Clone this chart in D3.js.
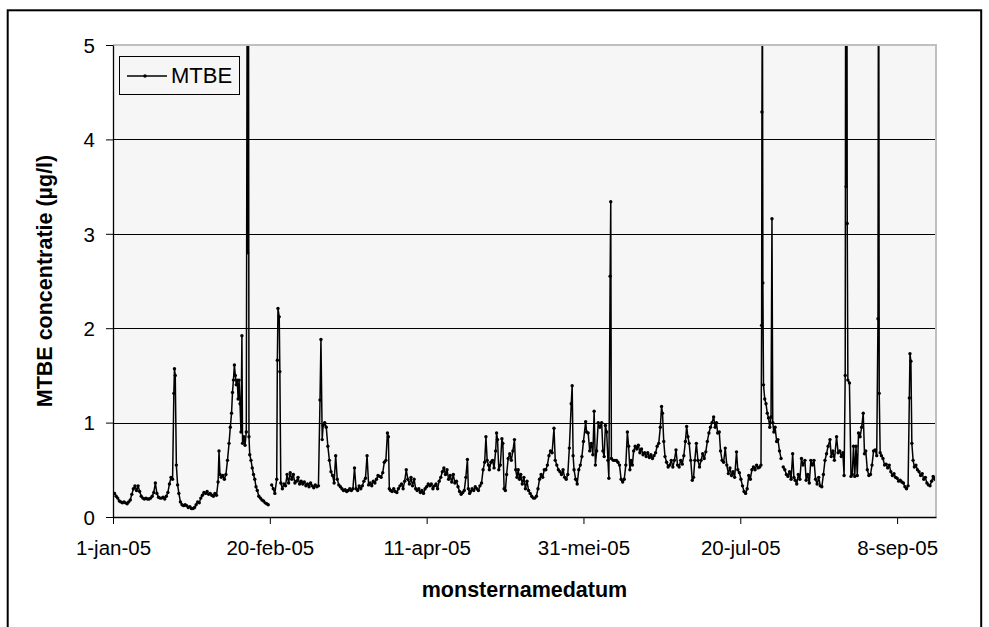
<!DOCTYPE html>
<html>
<head>
<meta charset="utf-8">
<script src="https://cdn.jsdelivr.net/npm/d3@7"></script>
<style>
  html, body { margin: 0; padding: 0; background: #ffffff; }
  svg { display: block; font-family: Arial, "Liberation Sans", sans-serif; }
</style>
</head>
<body>
<svg id="chart" width="989" height="627"></svg>
<script>
// ---------- DATA ----------
const seriesName = "MTBE";
const xTitle = "monsternamedatum";
const yTitle = "MTBE concentratie (µg/l)";
// x tick positions (days since 1-jan-05) and labels
const tickDays = [0, 50, 100, 150, 200, 250];
const tickLabels = ["1-jan-05", "20-feb-05", "11-apr-05", "31-mei-05", "20-jul-05", "8-sep-05"];
const yTicks = [0, 1, 2, 3, 4, 5];
const yGrid = [1, 2, 3, 4];
const xDomain = [0, 262.4];
const yDomain = [0, 5];
// samples: [day since 1-jan-05, MTBE µg/l]; null = missing data
const mtbeSamples = [
  [0,0.24],[0.5,0.25],[1,0.22],[1.5,0.2],[2,0.17],[2.5,0.16],[3,0.15],[3.5,0.16],[4,0.15],[4.5,0.14],
  [5,0.16],[5.5,0.18],[6,0.24],[6.5,0.3],[7,0.33],[7.5,0.28],[8,0.33],[8.5,0.27],[9,0.22],[9.5,0.2],
  [10,0.19],[10.5,0.2],[11,0.19],[11.5,0.19],[12,0.2],[12.5,0.22],[13,0.26],[13.5,0.36],[14,0.25],[14.5,0.21],
  [15,0.2],[15.5,0.2],[16,0.21],[16.5,0.19],[17,0.22],[17.5,0.26],[18,0.35],[18.5,0.42],[19,0.4],[19.4,1.31],
  [19.6,1.57],[19.85,1.5],[20.2,0.55],[20.6,0.34],[21,0.25],[21.5,0.16],[22,0.13],[22.5,0.12],[23,0.13],[23.5,0.12],
  [24,0.1],[24.5,0.11],[25,0.09],[25.5,0.09],[26,0.1],[26.5,0.13],[27,0.16],[27.5,0.15],[28,0.2],[28.5,0.23],
  [29,0.26],[29.5,0.25],[30,0.27],[30.5,0.24],[31,0.25],[31.5,0.23],[32,0.22],[32.5,0.25],[33,0.23],[33.5,0.37],
  [33.8,0.7],[34.1,0.45],[34.5,0.42],[35,0.44],[35.5,0.4],[36,0.45],[36.5,0.6],[37,0.78],[37.4,0.95],[37.8,1.1],
  [38.1,1.32],[38.4,1.45],[38.7,1.61],[39,1.5],[39.3,1.4],[39.6,1.45],[39.9,1.25],[40.2,1.45],[40.5,1.2],[40.8,0.9],
  [41.1,1.92],[41.3,0.78],[41.7,0.85],[42.1,0.76],[42.5,0.9],[42.8,6],[42.95,2.8],[43.05,6],[43.2,6],[43.35,0.85],
  [43.6,0.66],[44,0.6],
  [44.4,0.52],[44.8,0.45],[45.2,0.4],[45.6,0.32],[46,0.28],[46.5,0.22],[47,0.2],[47.5,0.18],[48,0.17],[48.5,0.15],
  [49,0.14],[49.5,0.13],[50,null],
  [50.6,0.34],[51.1,0.3],[51.6,0.25],[52.2,0.4],[52.4,1.66],[52.6,2.21],[53,2.12],[53.2,1.54],[53.5,0.36],[54,0.3],
  [54.5,0.35],[55,0.33],[55.5,0.45],[56,0.36],[56.5,0.47],[57,0.4],[57.5,0.45],[58,0.36],[58.5,0.38],[59,0.42],
  [59.5,0.35],[60,0.38],[60.5,0.35],[61,0.37],[61.5,0.33],[62,0.35],[62.5,0.32],[63,0.36],[63.5,0.33],[64,0.31],
  [64.5,0.34],[65,0.32],[65.5,0.33],[66,1.24],[66.3,1.88],[66.7,0.82],[67,0.97],[67.5,1.0],[68,0.95],[68.5,0.75],
  [69,0.6],[69.5,0.48],[70,0.44],[70.5,0.36],[71,0.65],[71.5,0.4],[72,0.34],[72.5,0.32],[73,0.3],[73.5,0.28],
  [74,0.29],[74.5,0.27],[75,0.28],[75.5,0.3],[76,0.28],[76.5,0.3],[77,0.52],[77.5,0.3],[78,0.28],[78.5,0.33],
  [79,0.3],[79.5,0.33],[80,0.38],[80.5,0.41],[81,0.65],[81.5,0.34],[82,0.36],[82.5,0.33],[83,0.38],[83.5,0.36],
  [84,0.4],[84.5,0.44],[85,0.43],[85.5,0.42],[86,0.47],[86.5,0.58],[87,0.6],[87.5,0.89],[87.8,0.85],[88.1,0.3],
  [88.5,0.28],[89,0.27],[89.5,0.3],[90,0.27],[90.5,0.26],[91,0.3],[91.5,0.33],[92,0.35],[92.5,0.3],[93,0.38],
  [93.5,0.5],[94,0.4],[94.5,0.35],[95,0.42],[95.5,0.33],[96,0.4],[96.5,0.3],[97,0.28],[97.5,0.3],[98,0.26],
  [98.5,0.28],[99,0.25],[99.5,0.3],[100,0.32],[100.5,0.35],[101,0.33],[101.5,0.35],[102,0.3],[102.5,0.33],[103,0.35],
  [103.5,0.3],[104,0.38],[104.5,0.42],[105,0.48],[105.5,0.52],[106,0.45],[106.5,0.5],[107,0.4],[107.5,0.44],[108,0.37],
  [108.5,0.45],[109,0.36],[109.5,0.38],[110,0.32],[110.5,0.27],[111,0.24],[111.5,0.26],[112,0.28],[112.5,0.42],[113,0.61],
  [113.3,0.3],[113.7,0.25],[114,0.27],[114.5,0.3],[115,0.28],[115.5,0.32],[116,0.3],[116.5,0.28],[117,0.33],[117.5,0.36],
  [118,0.5],[118.5,0.58],[118.9,0.85],[119.3,0.6],[119.7,0.55],[120,0.5],[120.5,0.58],[121,0.6],[121.5,0.52],[122,0.7],
  [122.3,0.89],[122.6,0.82],[123,0.5],[123.5,0.55],[124,0.83],[124.3,0.78],[124.7,0.3],[125.1,0.28],[125.5,0.45],[126,0.62],
  [126.5,0.67],[127,0.6],[127.5,0.7],[128,0.82],[128.4,0.5],[128.8,0.42],[129.2,0.5],[129.6,0.4],[130,0.45],[130.5,0.35],
  [131,0.42],[131.5,0.3],[132,0.38],[132.5,0.28],[133,0.25],[133.5,0.22],[134,0.2],[134.5,0.2],[135,0.22],[135.5,0.3],
  [136,0.4],[136.5,0.45],[137,0.42],[137.5,0.5],[138,0.5],[138.5,0.55],[139,0.65],[139.5,0.7],[140,0.68],[140.6,0.94],
  [141,0.6],[141.5,0.55],[142,0.5],[142.5,0.48],[143,0.45],[143.5,0.5],[144,0.42],[144.5,0.4],[145,0.45],[145.5,0.73],
  [146.1,1.2],[146.4,1.39],[146.7,0.65],[147,0.5],[147.5,0.4],[148,0.35],[148.5,0.5],[149,0.55],[149.5,0.64],[150,0.8],
  [150.7,1.01],[151,0.9],[151.5,0.89],[152,0.7],[152.5,0.78],[153,0.66],[153.4,1.12],[153.8,0.55],[154.2,0.7],[154.7,1.0],
  [155.2,0.95],[155.8,1.0],[156.2,0.7],[156.6,0.64],[157,0.97],[157.4,0.9],[157.8,0.6],[158.1,0.41],[158.5,2.55],[158.7,3.34],
  [158.9,0.62],[159.5,0.6],[160,0.6],[160.5,0.6],[161,0.58],[161.5,0.55],[162,0.4],[162.5,0.37],[163,0.4],[163.5,0.55],
  [164,0.9],[164.4,0.75],[164.8,0.5],[165.2,0.6],[165.6,0.55],[166,0.7],[166.5,0.75],[167,0.72],[167.5,0.76],[168,0.68],
  [168.5,0.72],[169,0.66],[169.5,0.68],[170,0.64],[170.5,0.68],[171,0.63],[171.5,0.66],[172,0.62],[172.5,0.65],[173,0.68],
  [173.5,0.75],[174,0.78],[174.5,0.95],[174.9,1.17],[175.2,1.1],[175.6,0.8],[176,0.64],[176.5,0.58],[177,0.53],[177.5,0.55],
  [178,0.6],[178.5,0.53],[179,0.6],[179.5,0.71],[180,0.55],[180.5,0.53],[181,0.6],[181.5,0.56],[182,0.65],[182.5,0.8],
  [182.9,0.96],[183.3,0.85],[183.7,0.78],[184.2,0.6],[184.7,0.39],[185.1,0.42],[185.5,0.6],[186,0.78],[186.5,0.6],[187,0.53],
  [187.5,0.6],[188,0.67],[188.5,0.62],[189,0.69],[189.5,0.8],[190,0.89],[190.5,0.95],[191,1.0],[191.5,1.06],[192,0.95],
  [192.4,1.0],[192.8,0.89],[193.3,0.9],[193.7,0.7],[194.2,0.6],[194.7,0.58],[195.2,0.73],[195.7,0.55],[196.2,0.46],[196.7,0.52],
  [197.2,0.44],[197.7,0.48],[198.2,0.42],[198.8,0.69],[199.2,0.5],[199.7,0.47],[200.2,0.4],[200.7,0.33],[201.2,0.27],[201.7,0.25],
  [202.2,0.3],[202.7,0.44],[203.2,0.4],[203.7,0.5],[204.2,0.53],[204.7,0.5],[205.2,0.55],[205.7,0.52],[206.2,0.53],[206.6,0.55],
  [206.8,2.03],[206.9,4.29],[207.05,6],[207.2,2.48],[207.4,1.4],[207.8,1.25],[208.2,1.2],[208.6,1.1],[209,1.05],[209.4,0.95],
  [209.8,1.06],[210.1,3.16],[210.35,1.0],[210.7,0.9],[211.1,0.95],[211.6,0.8],[212,0.82],[212.5,0.7],[213,0.62],[213.3,null],
  [213.7,0.53],[214.2,0.5],[214.7,0.45],[215.2,0.43],[215.7,0.48],[216.2,0.4],[216.7,0.67],[217.1,0.42],[217.5,0.39],[218,0.35],
  [218.5,0.45],[219,0.4],[219.5,0.62],[220,0.55],[220.6,0.6],[221,0.39],[221.5,0.45],[222,0.36],[222.5,0.6],[223,0.55],
  [223.5,0.6],[224,0.4],[224.5,0.35],[225,0.42],[225.5,0.33],[226,0.32],[226.5,0.45],[227,0.6],[227.5,0.67],[228,0.75],
  [228.6,0.82],[229,0.64],[229.5,0.7],[230,0.6],[230.7,0.85],[231.2,0.68],[231.7,0.7],[232.2,0.64],[232.7,0.68],[233.1,0.44],
  [233.45,1.5],[233.6,6],[233.75,3.5],[233.85,6],[234.0,6],[234.1,3.11],[234.3,1.45],[234.8,1.42],[235.3,0.43],[235.7,0.45],
  [236.1,0.75],[236.5,0.43],
  [236.9,0.75],[237.3,0.44],[237.7,0.89],[238.2,0.85],[238.7,0.95],[239.2,1.1],[239.6,0.67],[240,0.7],[240.5,0.5],[241,0.44],
  [241.5,0.45],[242,0.55],[242.5,0.7],[243,0.71],[243.5,0.65],[243.9,2.1],[244.05,6],[244.15,6],[244.3,1.31],[244.6,0.68],
  [245,0.65],
  [245.5,0.62],[246,0.55],[246.5,0.56],[247,0.52],[247.5,0.55],[248,0.48],[248.5,0.44],[249,0.46],[249.5,0.42],[250,0.41],
  [250.5,0.38],[251,0.39],[251.5,0.37],[252,0.36],[252.5,0.32],[253,0.3],[253.5,0.33],[253.9,1.26],[254.1,1.73],[254.4,1.65],
  [254.7,0.78],[255.1,0.6],[255.5,0.53],[256,0.55],[256.5,0.5],[257,0.48],[257.5,0.44],[258,0.46],[258.5,0.4],[259,0.42],
  [259.5,0.36],[260,0.34],[260.5,0.33],[261,0.38],[261.5,0.43],[262,0.4],[262.4,0.42]
];

// ---------- LAYOUT ----------
const svg = d3.select("#chart");
const plot = { left: 113, right: 936, top: 45, bottom: 517 };
const x = d3.scaleLinear().domain(xDomain).range([plot.left, plot.right]);
const y = d3.scaleLinear().domain(yDomain).range([plot.bottom, plot.top]);
const data = mtbeSamples.map(d => ({ day: d[0], v: d[1] }));

// outer chart border
svg.append("rect")
  .attr("x", 7.7).attr("y", 10.3).attr("width", 973.5).attr("height", 640)
  .attr("fill", "#ffffff").attr("stroke", "#000").attr("stroke-width", 2);

// plot area background
svg.append("rect")
  .attr("x", plot.left).attr("y", plot.top)
  .attr("width", plot.right - plot.left).attr("height", plot.bottom - plot.top)
  .attr("fill", "#f6f6f6");

// gridlines
svg.append("g").selectAll("line").data(yGrid).join("line")
  .attr("x1", plot.left).attr("x2", plot.right)
  .attr("y1", d => Math.round(y(d)) + 0.5).attr("y2", d => Math.round(y(d)) + 0.5)
  .attr("stroke", "#000").attr("stroke-width", 1);

// clip
svg.append("defs").append("clipPath").attr("id", "clip")
  .append("rect").attr("x", plot.left).attr("y", plot.top)
  .attr("width", plot.right - plot.left).attr("height", plot.bottom - plot.top);

const g = svg.append("g").attr("clip-path", "url(#clip)");
const line = d3.line().defined(d => d.v !== null).x(d => x(d.day)).y(d => y(d.v));
g.append("path").datum(data).attr("d", line)
  .attr("fill", "none").attr("stroke", "#000").attr("stroke-width", 1.5)
  .attr("stroke-linejoin", "round");
g.selectAll("circle").data(data.filter(d => d.v !== null && d.v <= 5)).join("circle")
  .attr("cx", d => x(d.day)).attr("cy", d => y(d.v)).attr("r", 1.7).attr("fill", "#000");

// plot area border (top & right, grey)
svg.append("path")
  .attr("d", `M${plot.left},${plot.top} H${plot.right} V${plot.bottom}`)
  .attr("fill", "none").attr("stroke", "#c0c0c0").attr("stroke-width", 2);

// axes
const yAxis = d3.axisLeft(y).tickValues(yTicks).tickSize(7).tickSizeOuter(0).tickPadding(11)
  .tickFormat(d3.format("d"));
const yg = svg.append("g").attr("transform", `translate(${plot.left},0)`).call(yAxis);
yg.select(".domain").attr("stroke", "#000").attr("stroke-width", 1.3);
yg.selectAll(".tick line").attr("stroke", "#000");
yg.selectAll(".tick text").attr("font-size", "20.5px").attr("fill", "#000")
  .attr("font-family", "Arial, 'Liberation Sans', sans-serif").attr("dy", "0.36em");

const xAxis = d3.axisBottom(x).tickValues(tickDays).tickSize(7).tickSizeOuter(0)
  .tickFormat((d, i) => tickLabels[i]);
const xg = svg.append("g").attr("transform", `translate(0,${plot.bottom})`).call(xAxis);
xg.select(".domain").attr("stroke", "#000").attr("stroke-width", 1.3);
xg.selectAll(".tick line").attr("stroke", "#000");
xg.selectAll(".tick text").attr("font-size", "20.5px").attr("fill", "#000")
  .attr("font-family", "Arial, 'Liberation Sans', sans-serif")
  .attr("y", 38).attr("dy", 0);

// axis titles
svg.append("text").attr("x", (plot.left + plot.right) / 2).attr("y", 597)
  .attr("text-anchor", "middle").attr("font-size", "21.5px").attr("font-weight", "bold")
  .text(xTitle);
svg.append("text")
  .attr("transform", `translate(52,${(plot.top + plot.bottom) / 2}) rotate(-90)`)
  .attr("text-anchor", "middle").attr("font-size", "21.5px").attr("font-weight", "bold")
  .text(yTitle);

// legend
const lg = svg.append("g");
lg.append("rect").attr("x", 119.5).attr("y", 56.5).attr("width", 120).attr("height", 38)
  .attr("fill", "#f6f6f6").attr("stroke", "#000").attr("stroke-width", 1);
lg.append("line").attr("x1", 127).attr("x2", 167).attr("y1", 76).attr("y2", 76)
  .attr("stroke", "#000").attr("stroke-width", 1.5);
lg.append("circle").attr("cx", 145).attr("cy", 76).attr("r", 1.7).attr("fill", "#000");
lg.append("text").attr("x", 171).attr("y", 83).attr("font-size", "22px").text(seriesName);
</script>
</body>
</html>
